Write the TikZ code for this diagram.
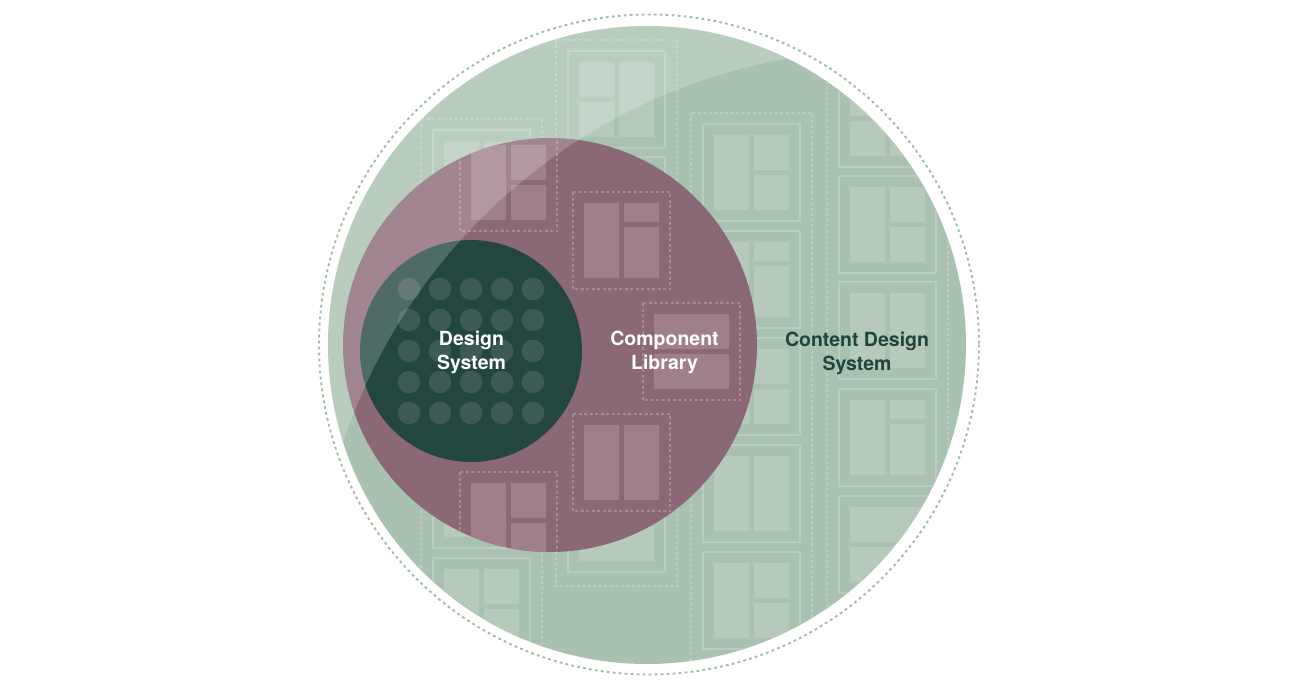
\documentclass[tikz,border=0pt]{standalone}
\usepackage{xcolor}
\usepackage{fontspec}
\setmainfont{TeX Gyre Heros}
\usepackage{tikz}

\definecolor{cdsgreen}{HTML}{A8C1B0}
\definecolor{cdsring}{HTML}{A2BCAA}
\definecolor{cdstile}{HTML}{B6CABC}
\definecolor{cdsline}{HTML}{B9CCBF}
\definecolor{clmauve}{HTML}{8A6876}
\definecolor{cltile}{HTML}{9E7F8A}
\definecolor{clline}{HTML}{A58A95}
\definecolor{dsdark}{HTML}{244641}
\definecolor{dsdot}{HTML}{3E5A54}
\definecolor{cdstext}{HTML}{22443E}

\tikzset{
  tilefill/.style={fill=cdstile},
  pics/tileL/.style={code={\fill[tilefill] (11,11) rectangle (46,86) (51,11) rectangle (86,46) (51,51) rectangle (86,86);}},
  pics/tileR/.style={code={\fill[tilefill] (11,11) rectangle (46,46) (11,51) rectangle (46,86) (51,11) rectangle (86,86);}},
  pics/tileS/.style={code={\fill[tilefill] (11,11) rectangle (46,86) (51,11) rectangle (86,30) (51,35) rectangle (86,86);}},
  pics/tileT/.style={code={\fill[tilefill] (11,11) rectangle (46,86) (51,11) rectangle (86,86);}},
  pics/tileW/.style={code={\fill[tilefill] (11,11) rectangle (86,46) (11,51) rectangle (86,86);}},
  colbox/.style={draw=cdsline, dash pattern=on 3pt off 2.5pt, line width=1.1pt},
  card/.style={draw=cdsline, line width=1.4pt},
  clbox/.style={draw=clline, dash pattern=on 3pt off 2.5pt, line width=1.1pt},
  dotfill/.style={fill=dsdot},
  cirlabel/.style={inner sep=0pt, align=center, font=\fontsize{19.5}{23.5}\selectfont\bfseries}
}

\begin{document}
\begin{tikzpicture}[x=1pt, y=-1pt]
\useasboundingbox (0,0) rectangle (1293,690);

\coordinate (cds) at (647,345);
\coordinate (cl) at (550,345);
\coordinate (ds) at (471,351);
\coordinate (gloss) at (887,623);

\draw[cdsring, dash pattern=on 2.8pt off 3.2pt, line width=1.9pt] (649,344.5) circle (330);
\fill[cdsgreen] (cds) circle (319);

% content design system
\begin{scope}
\clip (cds) circle (319);
\foreach \x/\y/\b in {421/119/720, 556/40/586, 691/113/720, 827/59/720}
	\draw[colbox] (\x,\y) rectangle (\x+121,\b);
\foreach \x/\y in {433/130, 433/237, 433/344, 433/451, 433/558, 568/51, 568/157, 568/263, 568/369, 568/475, 703/124, 703/231, 703/338, 703/445, 703/552, 839/70, 839/176, 839/282, 839/389, 839/496}
	\draw[card] (\x,\y) rectangle +(97,97);
\foreach \x/\y in {433/130, 433/237, 433/344, 433/451, 433/558, 568/157, 568/263, 568/369, 703/124, 703/338, 703/552, 839/176}
	\pic at (\x,\y) {tileL};
\foreach \x/\y in {568/51, 839/70}
	\pic at (\x,\y) {tileR};
\foreach \x/\y in {703/231, 839/389}
	\pic at (\x,\y) {tileS};
\foreach \x/\y in {703/445, 839/282}
	\pic at (\x,\y) {tileT};
\foreach \x/\y in {568/475, 839/496}
	\pic at (\x,\y) {tileW};
\end{scope}

% component library
\fill[clmauve] (cl) circle (207);
\begin{scope}[tilefill/.style={fill=cltile}]
\clip (cl) circle (207);
\foreach \x/\y in {460/134, 573/192, 643/303, 573/414, 460/472}
	\draw[clbox] (\x,\y) rectangle +(97,97);
\foreach \x/\y in {460/134, 460/472}
	\pic at (\x,\y) {tileL};
\pic at (573,192) {tileS};
\pic at (643,303) {tileW};
\pic at (573,414) {tileT};
\end{scope}

% design system
\fill[dsdark] (ds) circle (111);
\foreach \i in {-2,...,2}
	\foreach \j in {-2,...,2}
		\fill[dotfill] ([shift={(\i*31,\j*31)}]ds) circle (11.3);

\begin{scope}
\clip (cds) circle (319);
\fill[white, opacity=0.2, even odd rule] (cds) circle (319) (gloss) circle (573);
\end{scope}

\node(dslabel)[cirlabel, text=white] at (471.5,352.5) {Design\\System};
\node(cllabel)[cirlabel, text=white] at (664.5,352.5) {Component\\Library};
\node(cdslabel)[cirlabel, text=cdstext] at (857,353.5) {Content Design\\System};

\end{tikzpicture}
\end{document}
